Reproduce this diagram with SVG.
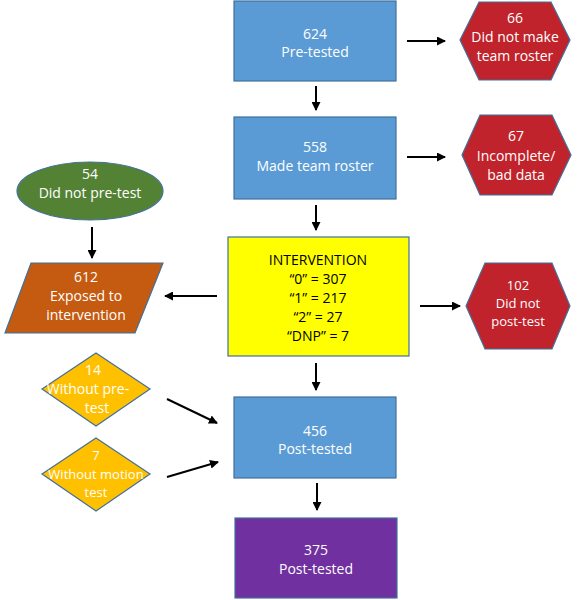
<svg xmlns="http://www.w3.org/2000/svg" width="581" height="600" viewBox="0 0 581 600">
<defs>
<marker id="ah" markerWidth="9" markerHeight="9" refX="8" refY="4.5" orient="auto" markerUnits="userSpaceOnUse">
<path d="M0,0 L9,4.5 L0,9 Z" fill="#000"/>
</marker>
<style>
.shape{stroke:#41719C;stroke-width:1.2}
.blue{fill:#5B9BD5}
.red{fill:#C0232B}
.t{font-family:"Open Sans","Liberation Sans",sans-serif;font-size:14px;fill:#fff;text-anchor:middle;dominant-baseline:middle}
.s{font-size:13px}
.tb{fill:#000}
.conn line{stroke:#000;stroke-width:2;marker-end:url(#ah)}
</style>
</defs>
<rect width="581" height="600" fill="#fff"/>
<g id="n624"><rect class="shape blue" x="234" y="1" width="162" height="80"/><text class="t" x="315" y="35">624</text><text class="t" x="315" y="53">Pre-tested</text></g>
<g id="n66"><polygon class="shape red" points="460,40 479,2 551,2 570,40 551,80 479,80"/><text class="t" x="515" y="19">66</text><text class="t" x="515" y="38">Did not make</text><text class="t" x="515" y="57">team roster</text></g>
<g id="n558"><rect class="shape blue" x="234" y="117" width="162" height="82"/><text class="t" x="315" y="148">558</text><text class="t" x="315" y="167">Made team roster</text></g>
<g id="n67"><polygon class="shape red" points="462,155 480,115 552,115 571,155 552,195 480,195"/><text class="t" x="516" y="137">67</text><text class="t" x="516" y="157">Incomplete/</text><text class="t" x="516" y="176">bad data</text></g>
<g id="n54"><ellipse class="shape" cx="90" cy="191" rx="73" ry="29" fill="#548235"/><text class="t" x="90" y="175">54</text><text class="t" x="90" y="194">Did not pre-test</text></g>
<g id="n612"><polygon class="shape" points="31,263 163,263 135,333 5,333" fill="#C55A11"/><text class="t" x="86" y="278">612</text><text class="t" x="86" y="297">Exposed to</text><text class="t" x="86" y="316">intervention</text></g>
<g id="nint"><rect class="shape" x="228" y="237" width="181" height="119" fill="#FFFF00" stroke="#8EA0A8"/><text class="t tb" x="318" y="261">INTERVENTION</text><text class="t tb" x="318" y="280">“0” = 307</text><text class="t tb" x="318" y="299">“1” = 217</text><text class="t tb" x="318" y="318">“2” = 27</text><text class="t tb" x="318" y="337">“DNP” = 7</text></g>
<g id="n102"><polygon class="shape red" points="466,306 485,263 552,263 570,306 552,349 485,349"/><text class="t s" x="518" y="287">102</text><text class="t s" x="518" y="305">Did not</text><text class="t s" x="518" y="323">post-test</text></g>
<g id="n14"><polygon class="shape" points="96,353 150,389 96,426 42,389" fill="#FFC000"/><text class="t" x="93" y="371">14</text><text class="t" x="88" y="390">Without pre-</text><text class="t" x="97" y="409">test</text></g>
<g id="n7"><polygon class="shape" points="96,438 150,474 96,511 42,474" fill="#FFC000"/><text class="t s" x="96" y="457">7</text><text class="t s" x="96" y="476">Without motion</text><text class="t s" x="96" y="494">test</text></g>
<g id="n456"><rect class="shape blue" x="234" y="397" width="162" height="81"/><text class="t" x="315" y="432">456</text><text class="t" x="315" y="450">Post-tested</text></g>
<g id="n375"><rect class="shape" x="235" y="518" width="162" height="80" fill="#7030A0"/><text class="t" x="316" y="551">375</text><text class="t" x="316" y="570">Post-tested</text></g>
<g id="connectors" class="conn">
<line x1="407" y1="41" x2="445" y2="41"/>
<line x1="316" y1="86" x2="316" y2="110"/>
<line x1="407" y1="157" x2="445" y2="157"/>
<line x1="316" y1="205" x2="316" y2="230"/>
<line x1="92" y1="227" x2="92" y2="258"/>
<line x1="217" y1="296" x2="165" y2="296"/>
<line x1="420" y1="306" x2="460" y2="306"/>
<line x1="316" y1="363" x2="316" y2="390"/>
<line x1="167" y1="399" x2="217" y2="423"/>
<line x1="167" y1="477" x2="218" y2="462"/>
<line x1="317" y1="483" x2="317" y2="510"/>
</g>
</svg>
